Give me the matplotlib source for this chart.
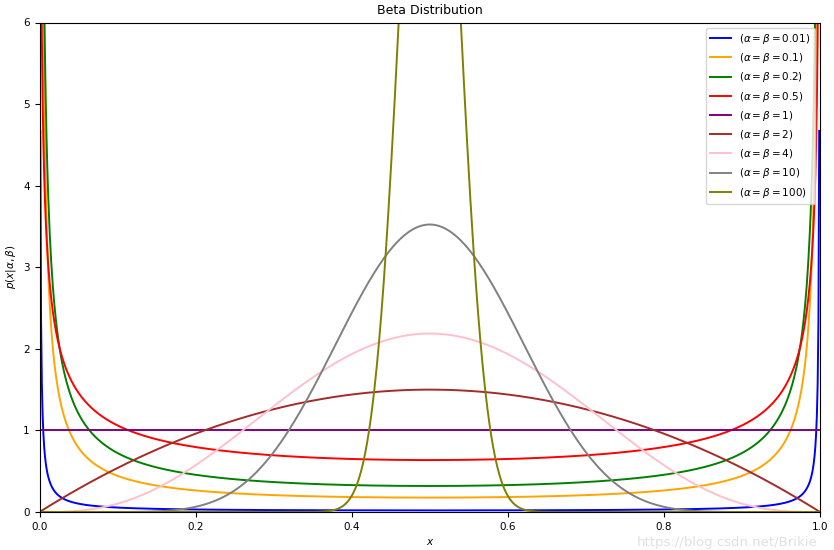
import math
import numpy as np
import matplotlib
matplotlib.use("Agg")
import matplotlib.pyplot as plt

alphas = [0.01, 0.1, 0.2, 0.5, 1, 2, 4, 10, 100]
labels = ["0.01", "0.1", "0.2", "0.5", "1", "2", "4", "10", "100"]
colors = ["blue", "orange", "green", "red", "purple", "brown", "pink", "gray", "olive"]

x = np.linspace(0.001, 0.999, 999)


def beta_pdf(x, a, b):
    lb = math.lgamma(a) + math.lgamma(b) - math.lgamma(a + b)
    return np.exp((a - 1) * np.log(x) + (b - 1) * np.log(1 - x) - lb)


plt.rcParams["font.size"] = 7.5
fig = plt.figure(figsize=(8.34, 5.5), dpi=100)
ax = fig.add_axes([39.5 / 834, 1 - 512 / 550, (820 - 39.5) / 834, (512 - 22.5) / 550])

for a, lab, c in zip(alphas, labels, colors):
    ax.plot(x, beta_pdf(x, a, a), color=c, lw=1.4, label=r"$(\alpha=\beta=%s)$" % lab)

ax.set_xlim(0, 1)
ax.set_ylim(0, 6)
ax.set_title("Beta Distribution", fontsize=9)
ax.set_xlabel(r"$x$")
ax.set_ylabel(r"$p(x|\alpha,\beta)$")
ax.legend(loc="upper right", fontsize=7.5)

fig.text(818 / 834, 1 / 550, "https://blog.csdn.net/Brikie", ha="right", va="bottom",
         fontsize=9.5, color="#e0e0e0")

fig.savefig("out.png", dpi=100)
